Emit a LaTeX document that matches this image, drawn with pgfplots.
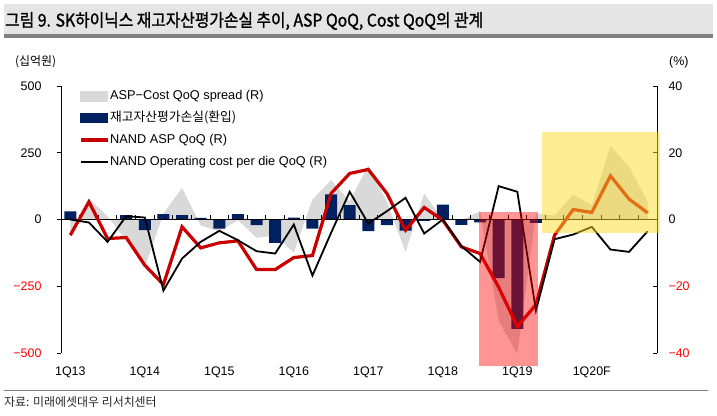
\documentclass[border=0pt]{standalone}
\usepackage{pgfplots}
\pgfplotsset{compat=1.18}
\usepackage{pgfplotstable}
\usepackage{fontspec}
\setmainfont{Liberation Sans}
\newfontfamily\kr{Noto Sans CJK KR}
\newfontfamily\krt{Noto Sans CJK KR}[FakeStretch=0.9,FakeBold=1.3]
\definecolor{navy}{HTML}{002060}
\definecolor{aspred}{HTML}{C80000}
\definecolor{spreadgray}{HTML}{D9D9D9}
\definecolor{boxpink}{HTML}{FF0000}
\definecolor{boxyellow}{HTML}{FFDC28}

\pgfplotstableread{
i bar asp cost spread
0 30 -4.7 0.0 -4.7
1 0 5.3 -0.9 6.2
2 0 -5.7 -6.7 1.0
3 16 -5.4 1.0 -6.4
4 -40 -13.7 0.6 -14.3
5 20 -19.5 -21.3 1.8
6 16 -2.2 -11.7 9.5
7 6 -8.5 -6.7 -1.8
8 -34 -7.0 -3.4 -3.6
9 20 -6.4 -6.2 -0.2
10 -21 -15.0 -9.5 -5.5
11 -88 -15.0 -10.2 -4.8
12 7 -11.4 -1.5 -9.9
13 -34 -10.8 -16.8 6.0
14 94 7.8 -4.0 11.8
15 54 13.8 8.3 5.5
16 -44 15.0 -1.2 16.2
17 -21 7.8 2.5 5.3
18 -42 -3.2 6.5 -9.7
19 -5 3.6 -4.2 7.8
20 56 -0.2 0.0 -0.2
21 -20 -8.2 -8.0 -0.2
22 -11 -10.2 -12.7 2.5
23 -220 -20.3 10.0 -30.3
24 -410 -32.1 8.3 -40.4
25 -13 -25.5 -27.3 1.8
26 0 -4.7 -5.9 1.2
27 0 3.0 -4.5 7.5
28 0 2.1 -2.2 4.3
29 0 13.1 -9.0 22.1
30 0 6.1 -9.7 15.8
31 0 2.0 -3.5 5.5
}\data

\pgfplotsset{
  common/.style={
    scale only axis, width=596bp, height=267bp,
    at={(61bp,63bp)}, anchor=south west,
    xmin=-0.5, xmax=31.5,
    tick label style={font=\fontsize{12.5}{14}\selectfont},
    axis line style={-, black, line width=0.9bp},
    major tick length=4bp,
  }
}

\begin{document}
\begin{tikzpicture}
\useasboundingbox (0bp,0bp) rectangle (717bp,416bp);
% title
\fill[black!10] (4bp,382bp) rectangle (713bp,412bp);
\fill[black!50] (4bp,378bp) rectangle (713bp,382bp);
\node[anchor=west, inner sep=0] at (5bp,395bp) {\krt\fontsize{17.6}{20}\selectfont 그림 9. SK하이닉스 재고자산평가손실 추이, ASP QoQ, Cost QoQ의 관계};
% unit labels
\node[anchor=west, inner sep=0] at (15bp,354bp) {\kr\fontsize{12}{14}\selectfont (십억원)};
\node[anchor=west, inner sep=0] at (669bp,354bp) {\fontsize{12.5}{14}\selectfont (\%)};
% source
\draw[black!50, line width=1bp] (4bp,25.3bp) -- (708bp,25.3bp);
\node[anchor=west, inner sep=0, text=black!85] at (4bp,14bp) {\kr\fontsize{12}{14}\selectfont 자료: 미래에셋대우 리서치센터};

% spread area (right scale)
\begin{axis}[common, hide axis, ymin=-40, ymax=40]
\addplot[fill=spreadgray, draw=none] table[x=i,y=spread]{\data} \closedcycle;
\end{axis}

% bars (left scale)
\begin{axis}[common, ymin=-500, ymax=500,
  axis lines*=left,
  x axis line style={draw=none},
  xtick={0,4,...,28},
  xticklabels={1Q13,1Q14,1Q15,1Q16,1Q17,1Q18,1Q19,1Q20F},
  xtick style={draw=none},
  xticklabel style={yshift=-6bp},
  ytick={-500,-250,0,250,500},
  yticklabels={\textcolor{red}{−500},\textcolor{red}{−250},0,250,500},
  ytick style={black, line width=0.9bp},
  yticklabel style={xshift=-12bp},
  tick align=outside,
  ]
\addplot[ybar, bar width=0.64, fill=navy, draw=none] table[x=i,y=bar]{\data};
\draw[black, line width=1bp] (axis cs:-0.5,0) -- (axis cs:31.5,0);
\pgfplotsinvokeforeach{0,...,30}{\draw[black, line width=0.8bp] (axis cs:#1.5,0) -- ++(0bp,4bp);}
\end{axis}

% lines (right scale)
\begin{axis}[common, ymin=-40, ymax=40,
  axis y line*=right,
  axis x line=none,
  ytick={-40,-20,0,20,40},
  yticklabels={\textcolor{red}{−40},\textcolor{red}{−20},0,20,40},
  ytick style={black, line width=0.9bp},
  yticklabel style={xshift=8bp},
  tick align=inside,
  clip=false,
  legend style={at={(0.0302,0.9906)}, anchor=north west, draw=none, fill=none,
    inner sep=0pt, outer sep=0pt,
    font=\fontsize{12.8}{14}\selectfont,
    nodes={inner sep=1bp, text height=10bp, text depth=3bp},
    row sep=7bp},
  legend cell align=left,
  ]
\addlegendimage{legend image code/.code={\fill[spreadgray] (0bp,-5bp) rectangle (27bp,5bp);}}
\addlegendimage{legend image code/.code={\fill[navy] (0bp,-4.5bp) rectangle (27bp,4.5bp);}}
\addlegendimage{legend image code/.code={\draw[aspred, line width=3.2bp] (0bp,0bp) -- (27bp,0bp);}}
\addlegendimage{legend image code/.code={\draw[black, line width=1.8bp] (0bp,0bp) -- (27bp,0bp);}}
\addplot[aspred, line width=3.2bp, forget plot] table[x=i,y=asp]{\data};
\addplot[black, line width=1.8bp, forget plot] table[x=i,y=cost]{\data};
\fill[boxpink, fill opacity=0.42] (axis cs:21.94,2.3) rectangle (axis cs:25.11,-44.0);
\fill[boxyellow, fill opacity=0.5] (axis cs:25.33,26.2) rectangle (axis cs:31.68,-3.9);
\legend{ASP−Cost QoQ spread (R), {\kr 재고자산평가손실(환입)}, NAND ASP QoQ (R), NAND Operating cost per die QoQ (R)}
\end{axis}
\end{tikzpicture}
\end{document}
